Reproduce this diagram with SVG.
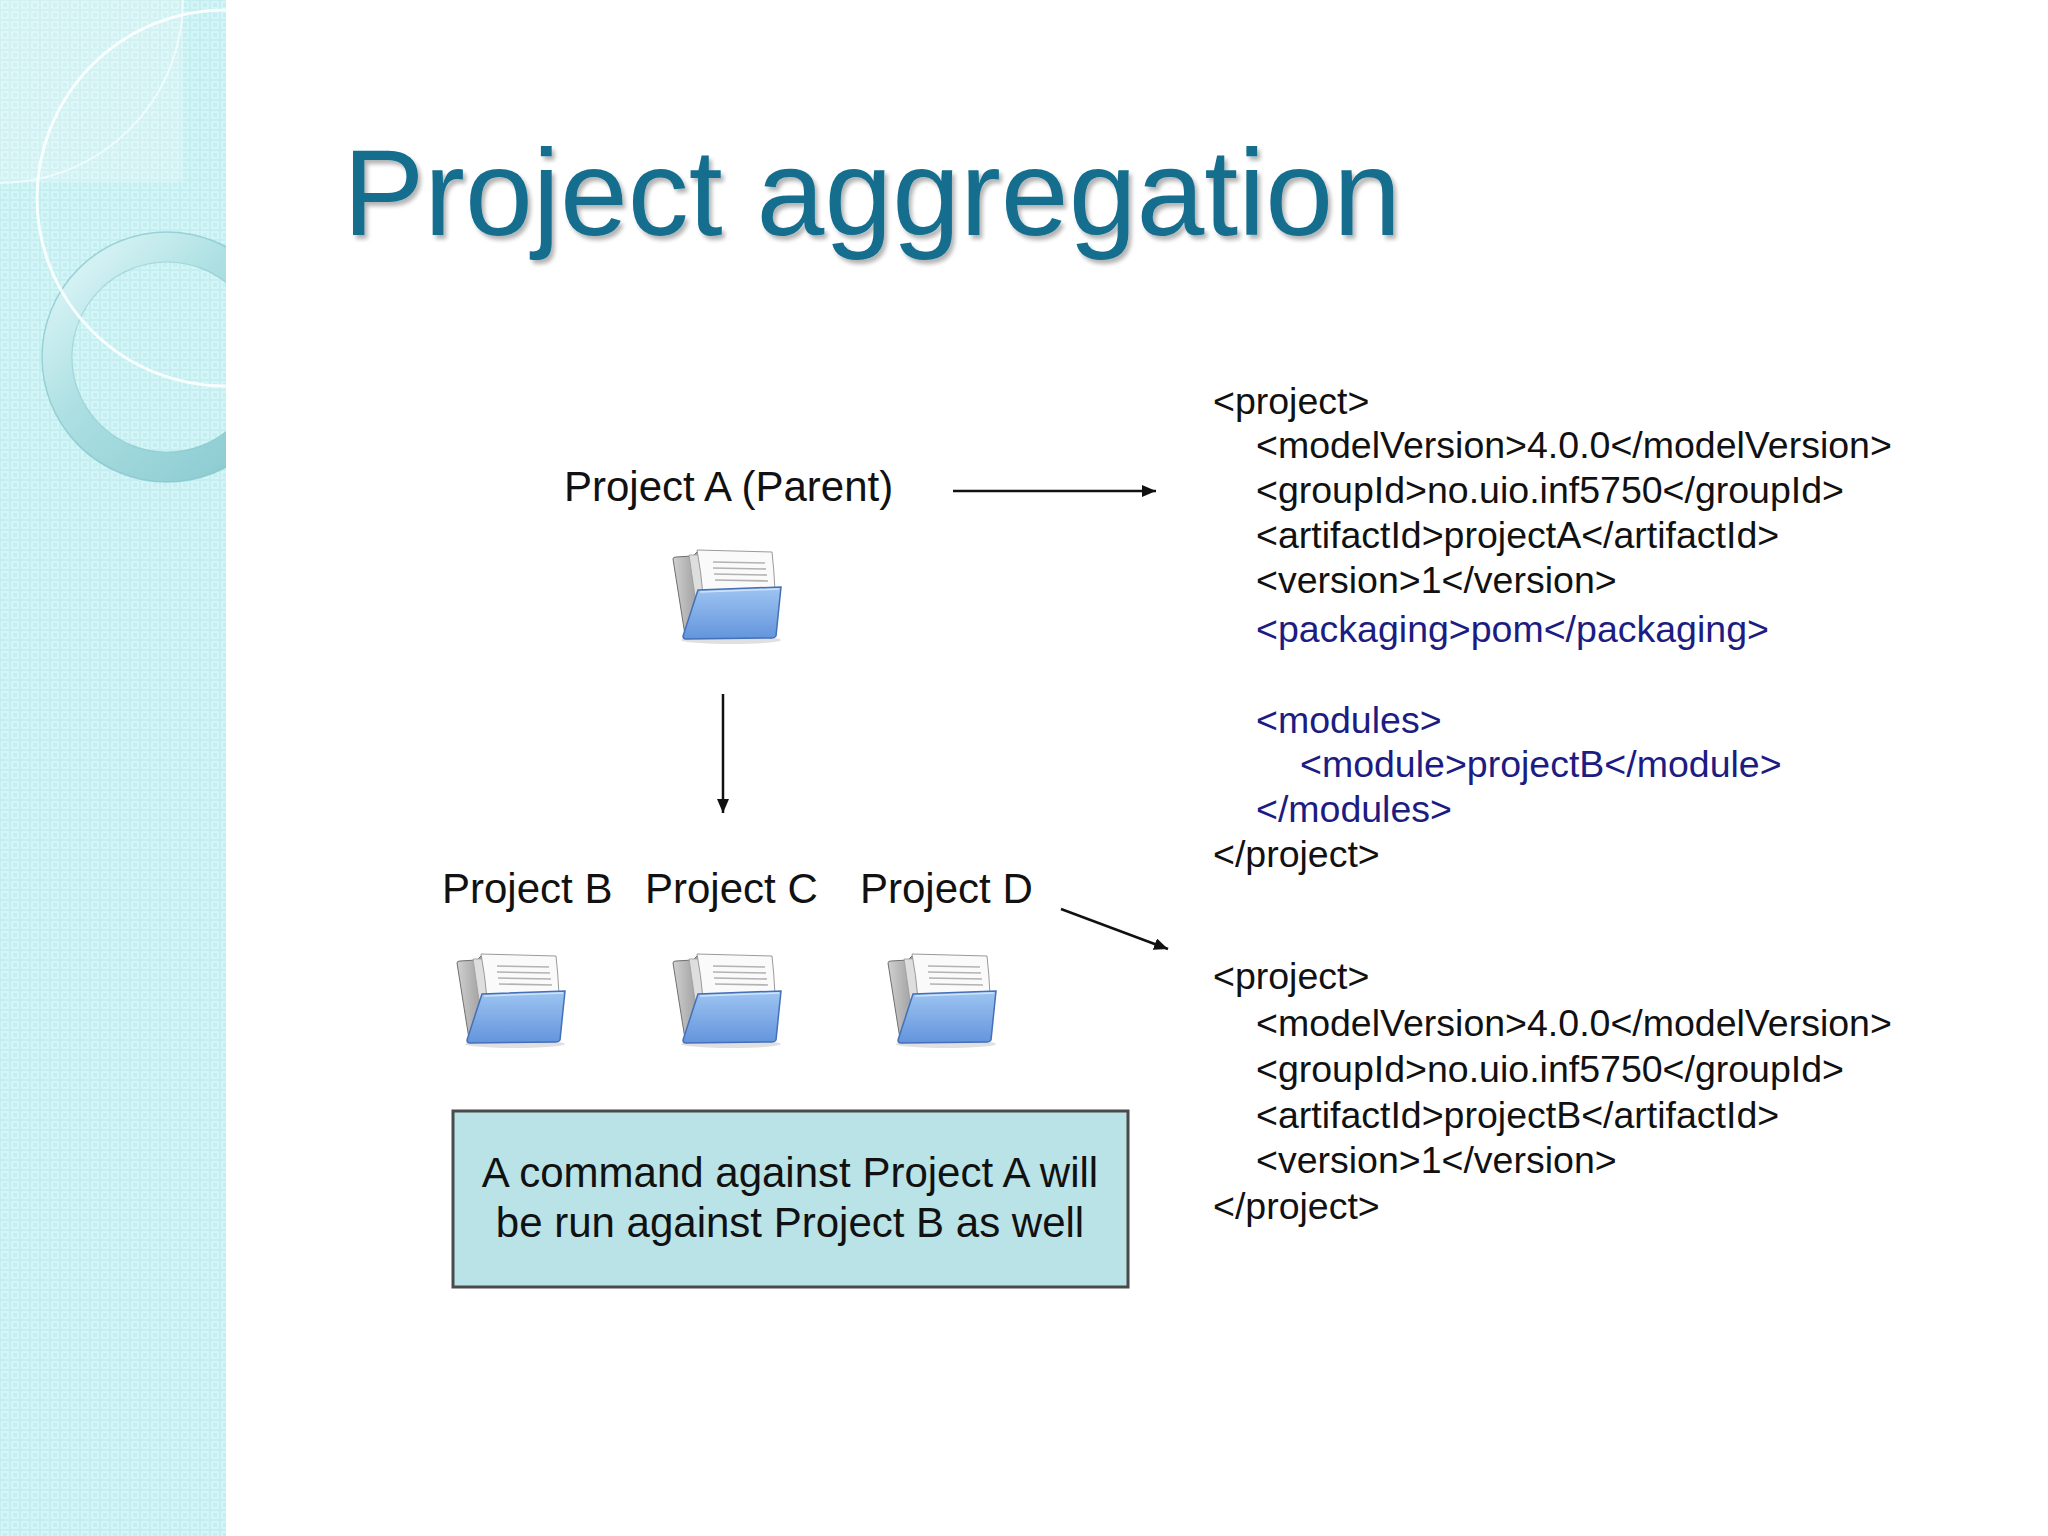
<svg xmlns="http://www.w3.org/2000/svg" xmlns:xlink="http://www.w3.org/1999/xlink" width="2048" height="1536" viewBox="0 0 2048 1536">
<style>
.title{font-family:"Liberation Sans",Arial,sans-serif;font-size:122px;fill:#136e8e}
.label{font-family:"Liberation Sans",Arial,sans-serif;font-size:42px;fill:#111}
.code{font-family:"Liberation Sans",Arial,sans-serif;font-size:37.5px;fill:#111}
.blue{fill:#1c1c82}
.conn{stroke:#111;stroke-width:2.5;fill:none}
</style>
<defs>
<pattern id="dots" width="10" height="10" patternUnits="userSpaceOnUse">
<rect x="2" y="2" width="6" height="6" fill="none" stroke="#dcf8f9" stroke-width="1.4"/>
</pattern>
<clipPath id="sideClip"><rect x="0" y="0" width="226" height="1536"/></clipPath>
<linearGradient id="ringGrad" x1="0" y1="0" x2="1" y2="1">
<stop offset="0" stop-color="#e2f8f9"/>
<stop offset="0.4" stop-color="#ade0e3"/>
<stop offset="1" stop-color="#86c8ce"/>
</linearGradient>
<linearGradient id="blueGrad" x1="0" y1="0" x2="0" y2="1">
<stop offset="0" stop-color="#9ec5f2"/>
<stop offset="1" stop-color="#6394dc"/>
</linearGradient>
<linearGradient id="grayGrad" x1="0" y1="0" x2="1" y2="0">
<stop offset="0" stop-color="#d0d0d0"/>
<stop offset="1" stop-color="#858585"/>
</linearGradient>
<filter id="tshadow" x="-5%" y="-5%" width="110%" height="120%">
<feGaussianBlur in="SourceAlpha" stdDeviation="2"/>
<feOffset dx="3" dy="4" result="b"/>
<feComponentTransfer><feFuncA type="linear" slope="0.3"/></feComponentTransfer>
<feMerge><feMergeNode/><feMergeNode in="SourceGraphic"/></feMerge>
</filter>
<marker id="arrow" viewBox="0 0 14 12" refX="14" refY="6" markerWidth="14" markerHeight="12" markerUnits="userSpaceOnUse" orient="auto">
<path d="M0,0 L14,6 L0,12 Z" fill="#111"/>
</marker>
<g id="folderIcon">
<ellipse cx="58" cy="91" rx="50" ry="4" fill="#000" opacity="0.12"/>
<path d="M0,10 Q0,8 3,8 L20,7 L24,3 L36,3 L38,42 L30,88 L14,89 Q12,89 12,86 Z" fill="url(#grayGrad)" stroke="#6f6f6f" stroke-width="1"/>
<path d="M16,6 L95,5 L99,44 L22,47 Z" fill="#dedede" stroke="#9a9a9a" stroke-width="0.8"/>
<path d="M24,1 L99,3 Q101,20 102,42 L30,46 Q28,22 24,1 Z" fill="#fafafa" stroke="#9a9a9a" stroke-width="1"/>
<path d="M40,13 L92,14 M40,19 L93,20 M41,25 L94,26 M42,31 L95,32" stroke="#b2b2b2" stroke-width="1.6"/>
<path d="M25,41 L108,38 L103,87 Q102,89 99,89 L13,90 Q10,90 10,87 Z" fill="url(#blueGrad)" stroke="#4470b8" stroke-width="1.5"/>
<path d="M27,43 L106,40" stroke="#d0e3fa" stroke-width="1.5"/>
</g>
</defs>

<rect x="0" y="0" width="2048" height="1536" fill="#ffffff"/>

<g id="sidebar" clip-path="url(#sideClip)">
<rect x="0" y="0" width="226" height="1536" fill="#c4eef0"/>
<rect x="0" y="0" width="226" height="1536" fill="url(#dots)"/>
<rect x="0" y="0" width="183" height="182" fill="#ffffff" opacity="0.22"/>
<path d="M183,0 A183,183 0 0 1 0,183" fill="none" stroke="#ffffff" stroke-width="2" opacity="0.6"/>
<circle cx="167" cy="357" r="110" fill="none" stroke="url(#ringGrad)" stroke-width="30"/>
<circle cx="167" cy="357" r="125" fill="none" stroke="#82c4ca" stroke-width="1.5" opacity="0.7"/>
<circle cx="167" cy="357" r="95" fill="none" stroke="#82c4ca" stroke-width="1.2" opacity="0.5"/>
<circle cx="225" cy="198" r="188" fill="none" stroke="#ffffff" stroke-width="3" opacity="0.85"/>
</g>

<text class="title" x="343" y="235" filter="url(#tshadow)">Project aggregation</text>

<g id="connectors">
<line class="conn" x1="953" y1="491" x2="1156" y2="491" marker-end="url(#arrow)"/>
<line class="conn" x1="723" y1="694" x2="723" y2="813" stroke="#555" stroke-width="3" marker-end="url(#arrow)"/>
<line class="conn" x1="1061" y1="909" x2="1168" y2="949" marker-end="url(#arrow)"/>
</g>

<g id="projectA">
<text class="label" x="564" y="501">Project A (Parent)</text>
<use xlink:href="#folderIcon" x="673" y="549"/>
</g>

<g id="projectB">
<text class="label" x="442" y="903">Project B</text>
<use xlink:href="#folderIcon" x="457" y="953"/>
</g>

<g id="projectC">
<text class="label" x="645" y="903">Project C</text>
<use xlink:href="#folderIcon" x="673" y="953"/>
</g>

<g id="projectD">
<text class="label" x="860" y="903">Project D</text>
<use xlink:href="#folderIcon" x="888" y="953"/>
</g>

<g id="noteBox">
<rect x="453" y="1111" width="675" height="176" fill="#b9e3e6" stroke="#4a4a4a" stroke-width="3"/>
<text class="label" x="790" y="1187" text-anchor="middle">A command against Project A will</text>
<text class="label" x="790" y="1237" text-anchor="middle">be run against Project B as well</text>
</g>

<g id="pomA">
<text class="code" x="1213" y="414">&lt;project&gt;</text>
<text class="code" x="1256" y="458">&lt;modelVersion&gt;4.0.0&lt;/modelVersion&gt;</text>
<text class="code" x="1256" y="503">&lt;groupId&gt;no.uio.inf5750&lt;/groupId&gt;</text>
<text class="code" x="1256" y="548">&lt;artifactId&gt;projectA&lt;/artifactId&gt;</text>
<text class="code" x="1256" y="593">&lt;version&gt;1&lt;/version&gt;</text>
<text class="code blue" x="1256" y="642">&lt;packaging&gt;pom&lt;/packaging&gt;</text>
<text class="code blue" x="1256" y="733">&lt;modules&gt;</text>
<text class="code blue" x="1300" y="777">&lt;module&gt;projectB&lt;/module&gt;</text>
<text class="code blue" x="1256" y="822">&lt;/modules&gt;</text>
<text class="code" x="1213" y="867">&lt;/project&gt;</text>
</g>

<g id="pomB">
<text class="code" x="1213" y="989">&lt;project&gt;</text>
<text class="code" x="1256" y="1036">&lt;modelVersion&gt;4.0.0&lt;/modelVersion&gt;</text>
<text class="code" x="1256" y="1082">&lt;groupId&gt;no.uio.inf5750&lt;/groupId&gt;</text>
<text class="code" x="1256" y="1128">&lt;artifactId&gt;projectB&lt;/artifactId&gt;</text>
<text class="code" x="1256" y="1173">&lt;version&gt;1&lt;/version&gt;</text>
<text class="code" x="1213" y="1219">&lt;/project&gt;</text>
</g>
</svg>
